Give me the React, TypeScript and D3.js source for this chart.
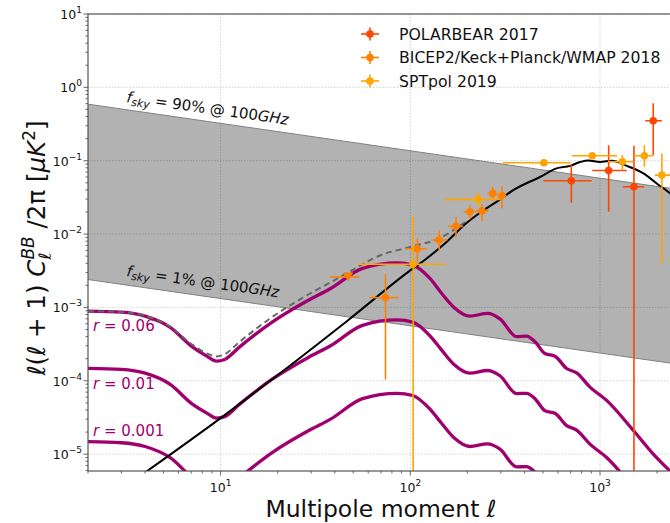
import React, { useRef, useEffect } from 'react';
import * as d3 from 'd3';

// ---- chart data ----
const xTicks = [10, 100, 1000];
const xTickExp = ['1', '2', '3'];
const yTicks = [10, 1, 0.1, 0.01, 1e-3, 1e-4, 1e-5];
const yTickExp = ['1', '0', '\u22121', '\u22122', '\u22123', '\u22124', '\u22125'];

// foreground band edges [ell, value]
const bandUpper = [[2, 0.59], [2500, 0.041]];
const bandLower = [[2, 0.0024], [2500, 1.7e-4]];

// tensor BB for r = 0.06, 0.01, 0.001
const tensorR006 = [
  [2, 8.9e-4], [3, 8.6e-4], [4, 7.6e-4], [5.4, 5.4e-4], [7.1, 2.9e-4], [8.5, 2.15e-4],
  [9.5, 1.85e-4], [10.5, 1.95e-4], [12.6, 2.9e-4], [18.7, 6.3e-4], [29, 1.25e-3],
  [38, 1.81e-3], [56, 3.4e-3], [85, 4.05e-3], [103, 3.77e-3], [127, 2.48e-3],
  [145, 1.6e-3], [170, 1.0e-3], [206, 7.6e-4], [255, 8.3e-4], [297, 7.0e-4],
  [363, 4.0e-4], [410, 4.05e-4], [454, 3.4e-4], [513, 2.35e-4], [579, 2.16e-4],
  [667, 1.47e-4], [753, 1.28e-4], [885, 8.2e-5], [1084, 5.4e-5], [1500, 2.1e-5],
  [1910, 1.0e-5], [2500, 5.0e-6],
];
const tensorR001 = [
  [2, 1.48e-4], [3, 1.43e-4], [4, 1.27e-4], [5.4, 9.0e-5], [7.1, 4.8e-5], [8.5, 3.6e-5],
  [9.5, 3.1e-5], [10.5, 3.25e-5], [12.6, 4.8e-5], [18.7, 1.05e-4], [29, 2.08e-4],
  [38, 3.0e-4], [56, 5.7e-4], [85, 6.75e-4], [103, 6.3e-4], [127, 4.1e-4],
  [145, 2.7e-4], [170, 1.67e-4], [206, 1.27e-4], [255, 1.38e-4], [297, 1.17e-4],
  [363, 6.7e-5], [410, 6.75e-5], [454, 5.7e-5], [513, 3.9e-5], [579, 3.6e-5],
  [667, 2.45e-5], [753, 2.13e-5], [885, 1.37e-5], [1084, 9.0e-6], [1500, 3.5e-6],
  [1910, 1.7e-6], [2500, 8e-7],
];
const tensorR0001 = [
  [2, 1.48e-5], [3, 1.43e-5], [4, 1.27e-5], [5.4, 9.0e-6], [7.1, 4.8e-6], [8.5, 3.6e-6],
  [9.5, 3.1e-6], [10.5, 3.25e-6], [12.6, 4.8e-6], [18.7, 1.05e-5], [29, 2.08e-5],
  [38, 3.0e-5], [56, 5.7e-5], [85, 6.75e-5], [103, 6.3e-5], [127, 4.1e-5],
  [145, 2.7e-5], [170, 1.67e-5], [206, 1.27e-5], [255, 1.38e-5], [297, 1.17e-5],
  [363, 6.7e-6], [410, 6.75e-6], [454, 5.7e-6], [513, 3.9e-6], [579, 3.6e-6],
  [667, 2.45e-6],
];
const rLabels = ['r = 0.06', 'r = 0.01', 'r = 0.001'];
const rLabelValues = [4.73e-4, 7.66e-5, 1.75e-5];

// total (r = 0.06 + lensing), dashed
const totalR006 = [
  [2, 8.9e-4], [3, 8.6e-4], [4, 7.7e-4], [5.4, 5.5e-4], [7.1, 3.1e-4], [8.5, 2.35e-4],
  [9.5, 2.15e-4], [10.5, 2.3e-4], [12.6, 3.4e-4], [18.7, 7.4e-4], [29, 1.5e-3],
  [38, 2.2e-3], [46, 2.9e-3], [69, 5.1e-3], [103, 6.8e-3], [143, 8.8e-3],
  [175, 1.2e-2], [195, 1.45e-2],
];

// lensing BB
const lensing = [
  [3.5, 4.4e-6], [10, 3.1e-5], [47, 6.7e-4], [100, 3.2e-3], [120, 4.5e-3], [150, 7.2e-3],
  [200, 1.45e-2], [236, 2.0e-2], [285, 2.75e-2], [349, 3.97e-2], [482, 6.0e-2],
  [590, 7.85e-2], [695, 8.5e-2], [785, 9.6e-2], [868, 0.101], [1000, 0.096],
  [1153, 0.1], [1384, 0.085], [1693, 0.067], [1991, 0.049], [2340, 0.036], [2500, 0.031],
];

// measurements [ell, value, ellLo, ellHi, valueLo, valueHi]
const polarbear = [
  [706, 0.0532, 503, 904, 0.0267, 0.0871],
  [1111, 0.0737, 910, 1384, 0.0201, 0.163],
  [1510, 0.0441, 1318, 1706, 1e-8, 0.16],
  [1908, 0.35, 1730, 2118, 0.119, 0.605],
];
const bicep = [
  [74, 1.36e-3, 61, 86.5, 1.04e-4, 2.84e-3],
  [109, 6.3e-3, 95, 122, 4.2e-3, 8.7e-3],
  [142, 8.3e-3, 129, 157, 5.9e-3, 0.0113],
  [174, 0.0128, 158, 190, 8.97e-3, 0.0172],
  [206, 0.0201, 191, 222, 0.0158, 0.0249],
  [239, 0.0207, 222, 258, 0.0151, 0.0258],
  [272, 0.0358, 254, 287, 0.0284, 0.044],
  [304, 0.0336, 287, 322, 0.0223, 0.045],
];
// upper limit [ell, value, ellLo, ellHi]
const bicepLimits = [[47, 2.6e-3, 37.6, 54]];
const sptpol = [
  [103.5, 3.88e-3, 53, 152, 1e-8, 0.0175],
  [228, 0.0297, 152, 300, 0.024, 0.038],
  [506, 0.0937, 307, 700, 0.087, 0.101],
  [910, 0.117, 710, 1233, 0.109, 0.126],
  [1312, 0.0966, 1107, 1500, 0.0744, 0.119],
  [1713, 0.117, 1510, 1908, 0.0826, 0.163],
  [2119, 0.0637, 1950, 2500, 3.97e-3, 0.125],
];
const legendNames = ['POLARBEAR 2017', 'BICEP2/Keck+Planck/WMAP 2018', 'SPTpol 2019'];
const colors = { polarbear: '#ff4500', bicep: '#ff8000', spt: '#ffa500', tensor: '#a0006e' };

const App = () => {
  const svgRef = useRef<SVGSVGElement>(null);

  useEffect(() => {
    const svg = d3.select(svgRef.current);
    svg.selectAll('*').remove();
    const font = 'DejaVu Sans';

    const left = 88, right = 675.5, top = 14, bottom = 471;
    const x = d3.scaleLog().domain([2, 2500]).range([left, right]);
    const y = d3.scaleLog().domain([Math.pow(10, -5.23), 10]).range([bottom, top]);

    svg.append('defs').append('clipPath').attr('id', 'plot')
      .append('rect').attr('x', left).attr('y', top)
      .attr('width', right - left).attr('height', bottom - top);

    // grid
    const grid = svg.append('g').attr('stroke', '#c8c8c8').attr('stroke-width', 0.8)
      .attr('stroke-dasharray', '1.5,1.5');
    xTicks.forEach(t => grid.append('line').attr('x1', x(t)).attr('x2', x(t))
      .attr('y1', top).attr('y2', bottom));
    yTicks.forEach(t => grid.append('line').attr('x1', left).attr('x2', right)
      .attr('y1', y(t)).attr('y2', y(t)));

    const plot = svg.append('g').attr('clip-path', 'url(#plot)');

    // foreground band
    const bandData = bandUpper.map((d, i) => ({ l: d[0], hi: d[1], lo: bandLower[i][1] }));
    plot.append('path').datum(bandData)
      .attr('fill', 'black').attr('fill-opacity', 0.3)
      .attr('d', d3.area<any>().x(d => x(d.l)).y0(d => y(d.lo)).y1(d => y(d.hi)));
    [bandUpper, bandLower].forEach(edge => plot.append('path').datum(edge)
      .attr('fill', 'none').attr('stroke', '#808080').attr('stroke-width', 1)
      .attr('d', d3.line<any>().x(d => x(d[0])).y(d => y(d[1]))));

    const curve = d3.line<any>().x(d => x(d[0])).y(d => y(d[1])).curve(d3.curveMonotoneX);

    [tensorR006, tensorR001, tensorR0001].forEach(s => plot.append('path').datum(s)
      .attr('fill', 'none').attr('stroke', colors.tensor).attr('stroke-width', 3.3)
      .attr('d', curve));

    plot.append('path').datum(totalR006)
      .attr('fill', 'none').attr('stroke', '#666').attr('stroke-width', 2)
      .attr('stroke-dasharray', '6,4').attr('d', curve);

    plot.append('path').datum(lensing)
      .attr('fill', 'none').attr('stroke', 'black').attr('stroke-width', 2)
      .attr('d', curve);

    // r labels
    rLabels.forEach((lab, i) => {
      const t = svg.append('text').attr('x', 93).attr('y', y(rLabelValues[i]))
        .attr('font-family', font).attr('font-size', 15).attr('fill', colors.tensor);
      t.append('tspan').attr('font-style', 'italic').text('r');
      t.append('tspan').text(lab.slice(1));
    });

    // f_sky annotations
    const fsky = (px: number, py: number, pct: string) => {
      const t = svg.append('text')
        .attr('transform', `translate(${px},${py}) rotate(8)`)
        .attr('font-family', font).attr('font-size', 15).attr('fill', '#111');
      t.append('tspan').attr('font-style', 'italic').text('f');
      t.append('tspan').attr('font-style', 'italic').attr('font-size', 11).attr('dy', 3).text('sky');
      t.append('tspan').attr('dy', -3).text(` = ${pct} @ 100`);
      t.append('tspan').attr('font-style', 'italic').text('GHz');
    };
    fsky(126, 102, '90%');
    fsky(126, 276, '1%');

    // error bars
    const drawSet = (data: number[][], color: string) => {
      const g = plot.append('g').attr('stroke', color).attr('stroke-width', 1.6);
      data.forEach(d => {
        g.append('line').attr('x1', x(d[2])).attr('x2', x(d[3]))
          .attr('y1', y(d[1])).attr('y2', y(d[1]));
        g.append('line').attr('x1', x(d[0])).attr('x2', x(d[0]))
          .attr('y1', y(d[4])).attr('y2', y(d[5]));
        g.append('circle').attr('cx', x(d[0])).attr('cy', y(d[1])).attr('r', 3.8)
          .attr('fill', color).attr('stroke', 'none');
      });
    };
    drawSet(polarbear, colors.polarbear);
    const lim = plot.append('g');
    bicepLimits.forEach(d => {
      lim.append('line').attr('x1', x(d[2])).attr('x2', x(d[3]))
        .attr('y1', y(d[1])).attr('y2', y(d[1]))
        .attr('stroke', colors.bicep).attr('stroke-width', 1.6);
      const cx = x(d[0]), cy = y(d[1]);
      lim.append('path').attr('d', `M${cx - 5},${cy - 4.5}L${cx + 5},${cy - 4.5}L${cx},${cy + 4.5}Z`)
        .attr('fill', colors.bicep);
    });
    drawSet(bicep, colors.bicep);
    drawSet(sptpol, colors.spt);

    // axes
    const ax = svg.append('g').attr('stroke', '#555').attr('stroke-width', 1.2);
    ax.append('rect').attr('x', left).attr('y', top).attr('width', right - left)
      .attr('height', bottom - top).attr('fill', 'none');
    const ticks = svg.append('g').attr('stroke', '#555').attr('stroke-width', 0.9);
    for (let k = 0; k <= 3; k++) {
      for (let m = 1; m <= 9; m++) {
        const v = m * Math.pow(10, k);
        if (v < 2 || v > 2500) continue;
        const len = m === 1 ? 4.5 : 2.5;
        ticks.append('line').attr('x1', x(v)).attr('x2', x(v))
          .attr('y1', bottom).attr('y2', bottom + len);
      }
    }
    for (let k = -6; k <= 0; k++) {
      for (let m = 1; m <= 9; m++) {
        const v = m * Math.pow(10, k);
        if (v < Math.pow(10, -5.23) || v > 10.01) continue;
        const len = m === 1 ? 4.5 : 2.5;
        ticks.append('line').attr('x1', left - len).attr('x2', left)
          .attr('y1', y(v)).attr('y2', y(v));
      }
    }
    ticks.append('line').attr('x1', left - 4.5).attr('x2', left).attr('y1', y(10)).attr('y2', y(10));

    xTicks.forEach((t, i) => {
      const tx = svg.append('text').attr('x', x(t)).attr('y', 491.5)
        .attr('text-anchor', 'middle').attr('font-family', font).attr('font-size', 12.5).attr('fill', '#111');
      tx.append('tspan').text('10');
      tx.append('tspan').attr('font-size', 9).attr('dy', -6).text(xTickExp[i]);
    });
    yTicks.forEach((t, i) => {
      const tx = svg.append('text').attr('x', 82).attr('y', y(t) + 5)
        .attr('text-anchor', 'end').attr('font-family', font).attr('font-size', 12.5).attr('fill', '#111');
      tx.append('tspan').text('10');
      tx.append('tspan').attr('font-size', 9).attr('dy', -6).text(yTickExp[i]);
    });

    // axis labels
    svg.append('text').attr('x', 381).attr('y', 517).attr('text-anchor', 'middle')
      .attr('font-family', font).attr('font-size', 23.5).attr('fill', '#111')
      .text('Multipole moment \u2113');

    const yl = svg.append('text').attr('transform', 'translate(45,248) rotate(-90)')
      .attr('text-anchor', 'middle').attr('font-family', font).attr('font-size', 24.5).attr('fill', '#111');
    yl.append('tspan').text('\u2113(\u2113 + 1) ');
    yl.append('tspan').attr('font-style', 'italic').text('C');
    yl.append('tspan').attr('font-size', 17).attr('dy', 6).text('\u2113');
    yl.append('tspan').attr('font-size', 17).attr('font-style', 'italic').attr('dx', -7).attr('dy', -17).text('BB');
    yl.append('tspan').attr('dy', 11).text(' /2\u03c0 [');
    yl.append('tspan').attr('font-style', 'italic').text('\u03bcK');
    yl.append('tspan').attr('font-size', 17).attr('dy', -10).text('2');
    yl.append('tspan').attr('dy', 10).text(']');

    // legend
    const legColors = [colors.polarbear, colors.bicep, colors.spt];
    legendNames.forEach((name, i) => {
      const cy = 34 + i * 23.5;
      const g = svg.append('g');
      g.append('line').attr('x1', 361).attr('x2', 379).attr('y1', cy).attr('y2', cy)
        .attr('stroke', legColors[i]).attr('stroke-width', 1.6);
      g.append('line').attr('x1', 370).attr('x2', 370).attr('y1', cy - 6.5).attr('y2', cy + 6.5)
        .attr('stroke', legColors[i]).attr('stroke-width', 1.6);
      g.append('circle').attr('cx', 370).attr('cy', cy).attr('r', 3.8).attr('fill', legColors[i]);
      g.append('text').attr('x', 399).attr('y', cy + 5.5)
        .attr('font-family', font).attr('font-size', 15.7).attr('fill', '#111').text(name);
    });
  }, []);

  return (
    <svg ref={svgRef} width={670} height={523}
      style={{ position: 'absolute', left: 0, top: 0, background: 'white' }} />
  );
};

export default App;
